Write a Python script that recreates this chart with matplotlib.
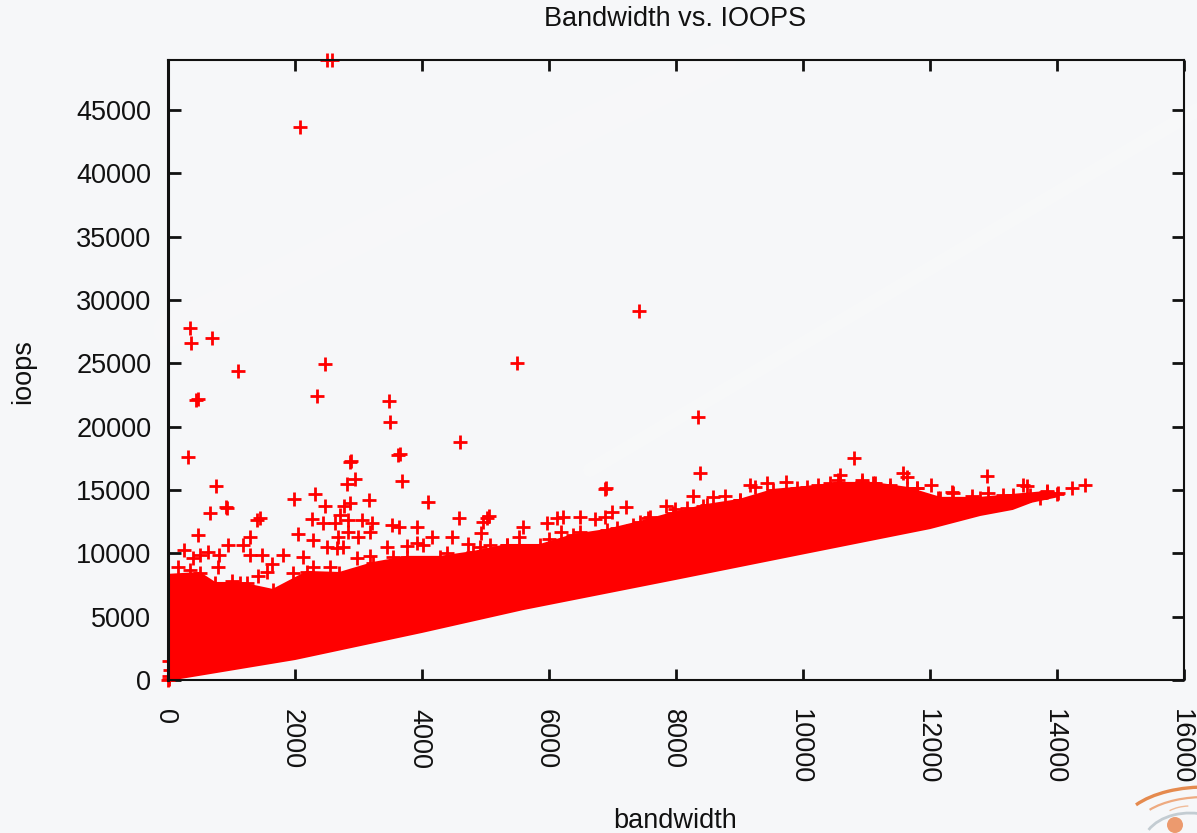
import matplotlib
matplotlib.use("Agg")
import matplotlib.pyplot as plt
from matplotlib.patches import Arc, Circle
from matplotlib.transforms import ScaledTranslation

plt.rcParams["font.family"] = ["Liberation Sans", "DejaVu Sans"]

# edges of the solid red mass
upper_x = [0, 500, 740, 1134, 1650, 2190, 2700, 3230, 3760, 4280, 4800, 5340, 5860, 6380, 6910,
           7430, 7950, 8490, 9000, 9530, 10060, 10580, 11100, 11640, 12160, 12790, 13300, 13840, 14000]
upper_y = [8300, 8450, 7660, 7660, 7110, 8530, 8450, 9240, 9720, 9720, 10100, 10660, 10660, 11450, 11850,
           12480, 13190, 13825, 14220, 15010, 15250, 15560, 15560, 15170, 14380, 14380, 14615, 14850, 14700]
lower_x = [0, 2000, 4000, 5590, 8000, 10000, 12000, 12790, 13300, 13600, 14000]
lower_y = [0, 1660, 3800, 5600, 7990, 10000, 12000, 13035, 13510, 14080, 14500]

# bumps along the top edge of the mass
edge_x = [6488, 7066, 7325, 7591, 8168, 8425, 9008, 9900, 10425, 10924, 11370, 11370, 11790, 12126, 12341,
          12913, 13150, 13575, 346, 1239, 1554, 1969, 2283, 2551, 2971, 3543, 3917, 4388, 5071]
edge_y = [11716, 11985, 12245, 12900, 13564, 13746, 14220, 15144, 15560, 15800, 15405, 15144, 15144, 14380, 14876,
          14773, 14615, 14615, 8690, 7663, 8556, 8453, 8953, 8953, 9638, 9741, 10823, 10033, 10665]

# single points above the mass
outlier_x = [2500, 2575, 2079, 7417, 346, 362, 693, 1102, 2472, 441, 472, 2346, 3480, 3496, 5496, 8346,
             4598, 3622, 3650, 315, 2866, 2885, 756, 3685, 10803, 6882, 6898, 8378, 11580, 11633, 12902,
             661, 913, 924, 1984, 2315, 2814, 2945, 3170, 4094, 4587, 5060, 4966, 4924, 5019, 5596, 5533,
             477, 257, 1291, 1397, 1449, 1176, 950, 399, 504, 635, 803, 1291, 1475, 1816, 1633, 793, 1003,
             163, 1423, 2052, 2262, 2436, 2630, 2709, 2772, 2866, 2840, 2840, 3050, 3208, 3181, 2997, 2682,
             2279, 2472, 2499, 2761, 2657, 2131, 3181, 3444, 3522, 3643, 3926, 3759, 4152, 4467, 4729, 4913,
             5333, 4020, 8273, 7208, 6987, 6882, 6724, 6488, 6225, 6120, 5964, 6184, 5997, 7843, 7984, 7564,
             8588, 8772, 9165, 9244, 9428, 9732, 10241, 10583, 10556, 12011, 11790, 10924, 11134, 13470,
             13523, 14241, 14441, 14020, 13837, 13732, 12367, 12657, 10, 20, 30, 10, 5]
outlier_y = [48950, 49000, 43660, 29150, 27800, 26620, 27020, 24410, 24960, 22120, 22200, 22440, 22040, 20380,
             25040, 20780, 18800, 17780, 17850, 17620, 17220, 17300, 15330, 15720, 17562, 15065, 15150, 16329,
             16377, 16061, 16140, 13169, 13670, 13612, 14275, 14695, 15484, 15855, 14220, 14086, 12774, 12956,
             12506, 11590, 12774, 12063, 11321, 11455, 10270, 11321, 12640, 12822, 10665, 10665, 9614, 9875,
             10136, 9875, 9875, 9875, 9875, 9164, 8953, 7821, 8953, 8216, 11534, 12695, 12379, 12379, 13035,
             13746, 13959, 12640, 11716, 12640, 12379, 11716, 11321, 11321, 11060, 13746, 10531, 10531, 10404,
             9741, 9796, 10531, 12245, 12063, 12111, 10586, 11273, 11273, 10744, 10531, 10665, 10665, 14536,
             13691, 13296, 12900, 12695, 12900, 12853, 12774, 12379, 11716, 11115, 13746, 13485, 12774, 14433,
             14536, 15405, 15271, 15587, 15666, 15405, 16195, 15800, 15405, 15144, 15666, 15539, 15405, 15350,
             15144, 15380, 14749, 14955, 14354, 14749, 14536, 100, 300, 800, 1500, 0]

x_ticks = [0, 2000, 4000, 6000, 8000, 10000, 12000, 14000, 16000]
y_ticks = [0, 5000, 10000, 15000, 20000, 25000, 30000, 35000, 40000, 45000]

RED = "#ff0000"
FS = 19.5
MS = 9.5
MEW = 2.0


def main():
    fig = plt.figure(figsize=(11.97, 8.33), dpi=100, facecolor="#f6f7f9")

    # backdrop, in pixel coordinates
    bg = fig.add_axes([0, 0, 1, 1], zorder=-1)
    bg.set_xlim(0, 1197)
    bg.set_ylim(833, 0)
    bg.axis("off")
    bg.add_patch(Arc((1205, 830), 170, 86, theta1=200, theta2=275, color="#e58a4e", lw=2.4))
    bg.add_patch(Arc((1205, 830), 140, 66, theta1=200, theta2=275, color="#eeaa80", lw=1.6))
    bg.add_patch(Arc((1190, 825), 62, 38, theta1=215, theta2=265, color="#f0bc9a", lw=1.0))
    bg.add_patch(Arc((1190, 845), 94, 64, theta1=200, theta2=300, color="#c3ccd2", lw=2))
    bg.add_patch(Circle((1175, 825), 8, color="#ec9a6e", ec="none"))
    bg.plot([170, 720], [330, 60], color="white", lw=24, alpha=0.12, solid_capstyle="round")
    bg.plot([590, 1197], [470, 110], color="white", lw=10, alpha=0.15, solid_capstyle="round")

    ax = fig.add_axes([168 / 1197, 1 - 680 / 833, (1184 - 168) / 1197, (680 - 59.5) / 833])
    ax.patch.set_alpha(0)
    ax.set_xlim(0, 16000)
    ax.set_ylim(0, 49000)

    # solid mass: fill one closed outline made from both edges
    ax.fill(upper_x + lower_x[::-1], upper_y + lower_y[::-1], color=RED, lw=1.5, zorder=2)
    ax.plot(upper_x, upper_y, "+", color=RED, ms=MS, mew=MEW, zorder=2)
    ax.plot(edge_x, edge_y, "+", color=RED, ms=MS, mew=MEW, zorder=2)
    ax.plot(outlier_x, outlier_y, "+", color=RED, ms=MS, mew=MEW, clip_on=False, zorder=2)

    ax.set_xticks(x_ticks)
    ax.set_yticks(y_ticks)
    ax.tick_params(axis="both", direction="in", top=True, right=True, width=2, labelsize=FS, colors="#111111")
    ax.tick_params(axis="x", length=8, pad=21, labelrotation=-90)
    ax.tick_params(axis="y", length=9, pad=12)
    shift = ScaledTranslation(-3 / 100, 0, fig.dpi_scale_trans)
    for lbl in ax.get_xticklabels():
        lbl.set_transform(lbl.get_transform() + shift)
    for name, spine in ax.spines.items():
        spine.set_linewidth(2.2 if name == "left" else 1.5)
        spine.set_color("#111111")

    fig.text(675 / 1197, 1 - 19 / 833, "Bandwidth vs. IOOPS", ha="center", va="center", fontsize=FS, color="#111111")
    fig.text(675 / 1197, 1 - 821 / 833, "bandwidth", ha="center", va="center", fontsize=FS, color="#111111")
    fig.text(23 / 1197, 1 - 372 / 833, "ioops", ha="center", va="center", rotation=90, fontsize=FS, color="#111111")

    fig.savefig("out.png", dpi=100, facecolor=fig.get_facecolor())
    plt.close(fig)


if __name__ == "__main__":
    main()
